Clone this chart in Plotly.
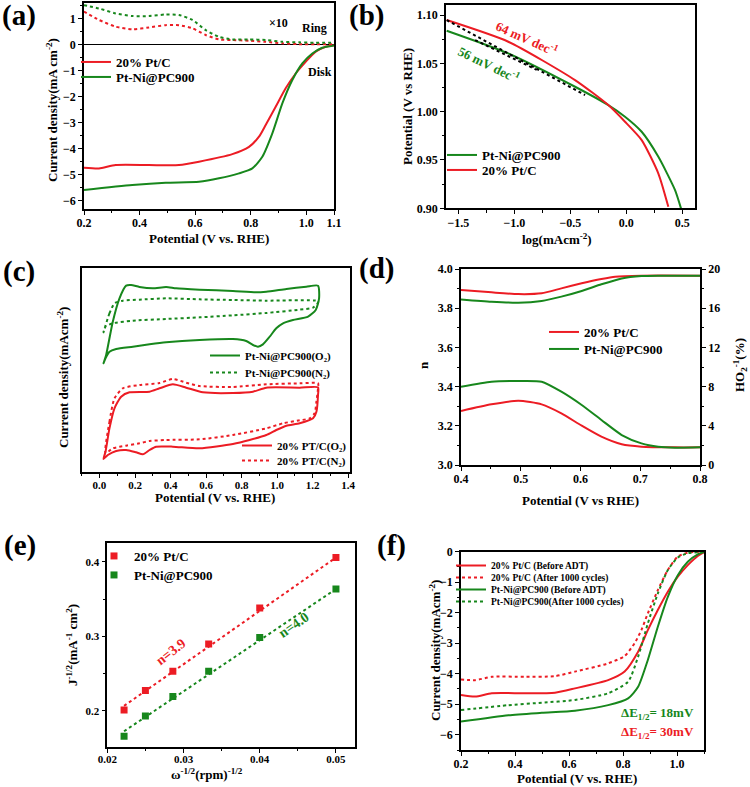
import plotly.graph_objects as go

W, H = 750, 787
RED = "#ec1c24"
GREEN = "#17871c"
FONT = "Liberation Serif"

# ---------------- (a) RRDE: disk & ring currents ----------------
A_X_RED = [0.2, 0.254, 0.314, 0.434, 0.542, 0.614, 0.734, 0.794, 0.83, 0.854, 0.89, 0.926, 0.962, 0.998, 1.034, 1.07, 1.1]
A_RED_DISK = [-4.74, -4.77, -4.64, -4.64, -4.64, -4.51, -4.22, -3.94, -3.55, -3.1, -2.4, -1.69, -1.12, -0.67, -0.28, -0.09, -0.03]
A_X_GREEN = [0.2, 0.374, 0.494, 0.614, 0.686, 0.758, 0.806, 0.842, 0.878, 0.914, 0.95, 0.986, 1.022, 1.058, 1.1]
A_GREEN_DISK = [-5.6, -5.41, -5.32, -5.28, -5.15, -4.96, -4.77, -4.32, -3.42, -2.27, -1.37, -0.73, -0.35, -0.13, -0.04]
A_X_RING = [0.2, 0.254, 0.314, 0.374, 0.434, 0.494, 0.542, 0.590, 0.638, 0.686, 0.734, 0.794, 0.854, 0.914, 0.974, 1.034, 1.1]
A_RED_RING = [1.26, 0.94, 0.68, 0.58, 0.65, 0.74, 0.74, 0.62, 0.36, 0.19, 0.17, 0.14, 0.10, 0.04, 0.01, 0.01, 0.01]
A_GREEN_RING = [1.51, 1.38, 1.19, 1.09, 1.09, 1.15, 1.13, 0.94, 0.55, 0.29, 0.19, 0.19, 0.17, 0.10, 0.08, 0.06, 0.06]
A_XTICKS = [0.2, 0.4, 0.6, 0.8, 1.0, 1.1]
A_YTICKS = [1, 0, -1, -2, -3, -4, -5, -6]

# ---------------- (b) Tafel ----------------
B_X_RED = [-1.604, -1.054, -0.458, -0.161, -0.012, 0.137, 0.286, 0.375]
B_RED = [1.0948, 1.0724, 1.0327, 1.0068, 0.9896, 0.9706, 0.936, 0.9016]
B_X_GREEN = [-1.604, -1.054, -0.458, -0.161, -0.012, 0.137, 0.286, 0.435, 0.488]
B_GREEN = [1.0838, 1.0603, 1.0258, 1.0068, 0.9948, 0.9792, 0.9533, 0.9188, 0.8999]
B_FIT_RED_X = [-1.604, -0.369]
B_FIT_RED_Y = [1.0948, 1.0172]
B_FIT_GREEN_X = [-1.35, -0.80]
B_FIT_GREEN_Y = [1.0741, 1.0433]

# ---------------- (c) CVs (arbitrary current units) ----------------
C_GREEN_O2_X = [0.0225, 0.0375, 0.075, 0.1127, 0.150, 0.178, 0.225, 0.300, 0.375, 0.4316, 0.5634, 0.751, 0.883, 0.939, 1.052, 1.164, 1.230,
                1.236, 1.217, 1.174, 1.089, 1.033, 0.995, 0.958, 0.920, 0.892, 0.864, 0.826, 0.751, 0.5634, 0.375, 0.282, 0.188, 0.094, 0.0563, 0.034, 0.0225]
C_GREEN_O2_Y = [53.28, 57.38, 73.76, 85.24, 91.46, 91.79, 90.81, 90.15, 90.81, 90.15, 89.50, 88.84, 88.19, 88.51, 89.82, 90.97, 91.46,
                85.24, 79.50, 76.22, 74.58, 72.95, 70.49, 66.39, 62.62, 61.47, 62.29, 64.26, 65.24, 64.75, 63.60, 62.62, 61.47, 60.33, 59.01, 55.74, 53.28]
C_GREEN_N2_X = [0.0225, 0.0563, 0.0845, 0.1314, 0.225, 0.375, 0.5634, 0.751, 0.939, 1.230,
                1.230, 1.202, 1.127, 0.939, 0.751, 0.5634, 0.375, 0.188, 0.075, 0.034, 0.0225]
C_GREEN_N2_Y = [68.52, 77.86, 82.78, 84.09, 84.58, 85.24, 84.74, 84.42, 84.09, 83.92,
                83.11, 80.65, 79.66, 78.03, 76.88, 75.89, 75.08, 74.26, 72.95, 71.31, 68.52]
C_RED_O2_X = [0.0225, 0.034, 0.0563, 0.0845, 0.122, 0.169, 0.282, 0.338, 0.413, 0.488, 0.582, 0.751, 0.864, 0.939, 1.127, 1.230,
              1.230, 1.221, 1.202, 1.127, 1.052, 0.995, 0.939, 0.845, 0.751, 0.5634, 0.413, 0.319, 0.282, 0.244, 0.206, 0.150, 0.094, 0.047, 0.0225]
C_RED_O2_Y = [6.24, 9.85, 21.32, 31.16, 36.89, 39.02, 39.35, 41.0, 42.95, 41.32, 39.02, 38.69, 39.35, 41.32, 41.32, 41.48,
              37.71, 29.52, 26.24, 23.78, 22.63, 20.50, 18.04, 15.59, 13.62, 11.49, 12.31, 12.31, 10.67, 8.54, 9.52, 10.67, 10.18, 8.21, 6.24]
C_RED_N2_X = [0.034, 0.0563, 0.0845, 0.1314, 0.225, 0.338, 0.413, 0.488, 0.5634, 0.751, 0.939, 1.127, 1.230,
              1.230, 1.221, 1.211, 1.183, 1.127, 1.033, 0.939, 0.751, 0.5634, 0.375, 0.282, 0.225, 0.150, 0.075, 0.034]
C_RED_N2_Y = [9.03, 24.60, 36.07, 40.99, 42.63, 43.61, 45.58, 43.77, 42.13, 41.64, 42.95, 43.45, 43.45,
              40.99, 34.43, 28.70, 26.24, 25.25, 23.78, 21.32, 18.04, 15.91, 15.59, 15.09, 13.95, 12.80, 11.49, 9.03]

# ---------------- (d) n and HO2- ----------------
D_X_RED_N = [0.4, 0.451, 0.496, 0.535, 0.568, 0.602, 0.635, 0.658, 0.702, 0.8]
D_RED_N = [3.893, 3.881, 3.872, 3.876, 3.901, 3.927, 3.949, 3.961, 3.966, 3.966]
D_X_GREEN_N = [0.4, 0.451, 0.496, 0.535, 0.568, 0.602, 0.635, 0.669, 0.702, 0.730, 0.8]
D_GREEN_N = [3.845, 3.833, 3.828, 3.837, 3.859, 3.888, 3.922, 3.952, 3.964, 3.966, 3.966]
D_X_GREEN_H = [0.4, 0.451, 0.496, 0.535, 0.568, 0.602, 0.635, 0.669, 0.702, 0.730, 0.758, 0.8]
D_GREEN_H = [7.99, 8.50, 8.57, 8.50, 7.48, 6.12, 4.59, 3.06, 2.21, 1.87, 1.77, 1.80]
D_X_RED_H = [0.4, 0.451, 0.496, 0.535, 0.568, 0.602, 0.635, 0.669, 0.702, 0.758, 0.8]
D_RED_H = [5.51, 6.19, 6.56, 6.19, 5.27, 4.01, 2.89, 2.11, 1.87, 1.80, 1.80]

# ---------------- (e) K-L plots ----------------
E_X = [0.0222, 0.025, 0.0286, 0.0333, 0.04, 0.05]
E_RED = [0.2014, 0.2273, 0.2532, 0.29, 0.3382, 0.4059]
E_GREEN = [0.1659, 0.1932, 0.2195, 0.2532, 0.2986, 0.3636]
E_FIT_X = [0.0222, 0.05]
E_FIT_RED = [0.2068, 0.4059]
E_FIT_GREEN = [0.1727, 0.3636]

# ---------------- (f) durability ----------------
F_X_RED = [0.2, 0.253, 0.314, 0.437, 0.548, 0.622, 0.745, 0.806, 0.856, 0.892, 0.929, 0.966, 1.003, 1.04, 1.077, 1.1]
F_RED = [-4.70, -4.75, -4.64, -4.64, -4.62, -4.48, -4.21, -3.93, -3.28, -2.57, -1.91, -1.31, -0.82, -0.44, -0.14, -0.02]
F_X_RED_AFTER = [0.2, 0.253, 0.314, 0.437, 0.548, 0.622, 0.745, 0.806, 0.843, 0.868, 0.892, 0.929, 0.966, 1.003, 1.04, 1.1]
F_RED_AFTER = [-4.19, -4.21, -4.10, -4.10, -4.08, -3.93, -3.66, -3.42, -3.0, -2.57, -2.02, -1.26, -0.60, -0.16, -0.03, 0.0]
F_X_GREEN = [0.2, 0.376, 0.499, 0.622, 0.745, 0.819, 0.856, 0.892, 0.929, 0.966, 1.003, 1.04, 1.077, 1.1]
F_GREEN = [-5.57, -5.36, -5.28, -5.21, -5.03, -4.81, -4.43, -3.55, -2.46, -1.48, -0.77, -0.33, -0.09, -0.01]
F_X_GREEN_AFTER = [0.2, 0.376, 0.499, 0.622, 0.745, 0.819, 0.856, 0.892, 0.929, 0.966, 1.003, 1.04, 1.1]
F_GREEN_AFTER = [-5.19, -5.03, -4.95, -4.86, -4.64, -4.26, -3.44, -2.35, -1.37, -0.60, -0.19, -0.05, 0.0]


def xdom(l, r):
    return [l / W, r / W]


def ydom(t, b):
    return [1 - b / H, 1 - t / H]


def px(x):
    return x / W


def py(y):
    return 1 - y / H


def tickfont(size=12):
    return dict(family=FONT, size=size, color="black", weight="bold")


def axis(domain, rng, anchor, tickvals=None, dtick=None, minor=None, showticklabels=True, ticks="outside", fmt=None, fsize=12, **kw):
    d = dict(domain=domain, range=rng, anchor=anchor, showline=True, linecolor="black", linewidth=1.6,
             mirror=True, ticks=ticks, ticklen=4, tickwidth=1.4, tickcolor="black", showgrid=False,
             zeroline=False, tickfont=tickfont(fsize), showticklabels=showticklabels, automargin=False)
    if tickvals is not None:
        d["tickmode"] = "array"
        d["tickvals"] = tickvals
    elif dtick is not None:
        d["dtick"] = dtick
    if minor is not None:
        d["minor"] = dict(dtick=minor, ticks="outside", ticklen=2.5, tickwidth=1.2, tickcolor="black")
    if fmt:
        d["tickformat"] = fmt
    d.update(kw)
    return d


fig = go.Figure()
legends = {}
_count = [0]


def new_legend(text_x, center_y, size):
    _count[0] += 1
    key = "legend" if _count[0] == 1 else "legend%d" % _count[0]
    legends[key] = dict(x=px(text_x - 41), y=py(center_y - 12), xanchor="left", yanchor="top",
                        bgcolor="rgba(0,0,0,0)", borderwidth=0, itemwidth=30,
                        font=dict(family=FONT, size=size, color="black", weight="bold"))
    return key


def line(x, y, color, name, xa, ya, dash="solid", leg=None, width=2, shape="spline"):
    fig.add_trace(go.Scatter(x=x, y=y, mode="lines", name=name, xaxis=xa, yaxis=ya,
                             line=dict(color=color, width=width, dash=dash, shape=shape, smoothing=0.6),
                             legend=leg if leg else "legend", showlegend=leg is not None))


# (a)
line(A_X_RED, A_RED_DISK, RED, "20% Pt/C", "x", "y", leg=new_legend(117, 59, 13))
line(A_X_GREEN, A_GREEN_DISK, GREEN, "Pt-Ni@PC900", "x", "y", leg=new_legend(117, 74, 13))
line(A_X_RING, A_RED_RING, RED, "ring red", "x", "y", dash="dot")
line(A_X_RING, A_GREEN_RING, GREEN, "ring green", "x", "y", dash="dot")

# (b)
line(B_X_GREEN, B_GREEN, GREEN, "Pt-Ni@PC900", "x2", "y2", leg=new_legend(483, 152, 13))
line(B_X_RED, B_RED, RED, "20% Pt/C", "x2", "y2", leg=new_legend(483, 167, 13))
line(B_FIT_RED_X, B_FIT_RED_Y, "black", "fit", "x2", "y2", dash="dot", shape="linear")
line(B_FIT_GREEN_X, B_FIT_GREEN_Y, "black", "fit2", "x2", "y2", dash="dot", shape="linear")

# (c)
line(C_GREEN_O2_X, C_GREEN_O2_Y, GREEN, "Pt-Ni@PC900(O₂)", "x3", "y3", leg=new_legend(246, 353, 11))
line(C_GREEN_N2_X, C_GREEN_N2_Y, GREEN, "Pt-Ni@PC900(N₂)", "x3", "y3", dash="dot", leg=new_legend(246, 370, 11))
line(C_RED_O2_X, C_RED_O2_Y, RED, "20% PT/C(O₂)", "x3", "y3", leg=new_legend(278, 443, 11))
line(C_RED_N2_X, C_RED_N2_Y, RED, "20% PT/C(N₂)", "x3", "y3", dash="dot", leg=new_legend(278, 458, 11))

# (d)
line(D_X_RED_N, D_RED_N, RED, "20% Pt/C", "x4", "y4", leg=new_legend(585, 329, 13))
line(D_X_GREEN_N, D_GREEN_N, GREEN, "Pt-Ni@PC900", "x4", "y4", leg=new_legend(585, 346, 13))
line(D_X_RED_H, D_RED_H, RED, "HO2 red", "x4", "y7")
line(D_X_GREEN_H, D_GREEN_H, GREEN, "HO2 green", "x4", "y7")

# (e)
fig.add_trace(go.Scatter(x=E_X, y=E_RED, mode="markers", name="20% Pt/C", xaxis="x5", yaxis="y5",
                         marker=dict(symbol="square", size=7, color=RED), legend=new_legend(135, 553, 13)))
fig.add_trace(go.Scatter(x=E_X, y=E_GREEN, mode="markers", name="Pt-Ni@PC900", xaxis="x5", yaxis="y5",
                         marker=dict(symbol="square", size=7, color=GREEN), legend=new_legend(135, 572, 13)))
line(E_FIT_X, E_FIT_RED, RED, "fit red", "x5", "y5", dash="dot", shape="linear")
line(E_FIT_X, E_FIT_GREEN, GREEN, "fit green", "x5", "y5", dash="dot", shape="linear")

# (f)
line(F_X_RED, F_RED, RED, "20% Pt/C (Before ADT)", "x6", "y6", leg=new_legend(492, 563, 9.5))
line(F_X_RED_AFTER, F_RED_AFTER, RED, "20% Pt/C (After 1000 cycles)", "x6", "y6", dash="dot", leg=new_legend(492, 575, 9.5))
line(F_X_GREEN, F_GREEN, GREEN, "Pt-Ni@PC900 (Before ADT)", "x6", "y6", leg=new_legend(492, 587, 9.5))
line(F_X_GREEN_AFTER, F_GREEN_AFTER, GREEN, "Pt-Ni@PC900(After 1000 cycles)", "x6", "y6", dash="dot", leg=new_legend(492, 599, 9.5))

layout = dict(
    width=W, height=H, margin=dict(l=0, r=0, t=0, b=0, autoexpand=False), paper_bgcolor="white", plot_bgcolor="white",
    font=dict(family=FONT, color="black"),
    # (a)
    xaxis=axis(xdom(84, 334), [0.2, 1.1], "y", tickvals=A_XTICKS, minor=0.1, fmt=".1f", ticklabelstandoff=-2),
    yaxis=axis(ydom(3.3, 209), [-6.33, 1.58], "x", tickvals=A_YTICKS, minor=0.5,
               zeroline=True, zerolinecolor="black", zerolinewidth=1.4),
    # (b)
    xaxis2=axis(xdom(446, 695), [-1.61, 0.613], "y2", dtick=0.5, minor=0.25, fmt=".1f", ticklabelstandoff=-2),
    yaxis2=axis(ydom(5, 208.3), [0.9, 1.1104], "x2", dtick=0.05, minor=0.025, fmt=".2f"),
    # (c)
    xaxis3=axis(xdom(81.7, 350), [-0.1, 1.41], "y3", dtick=0.2, minor=0.1, fmt=".1f", tick0=0, fsize=11,
                ticklabelstandoff=-2),
    yaxis3=axis(ydom(268.3, 471.7), [0, 100], "x3", showticklabels=False, ticks=""),
    # (d)
    xaxis4=axis(xdom(461, 700), [0.4, 0.8], "y4", dtick=0.1, minor=0.05, fmt=".1f", ticklabelstandoff=-2),
    yaxis4=axis(ydom(269, 465), [3.0, 4.0], "x4", dtick=0.2, minor=0.1, fmt=".1f"),
    yaxis7=axis(ydom(269, 465), [0, 20], "x4", dtick=4, minor=2, overlaying="y4", side="right"),
    # (e)
    xaxis5=axis(xdom(107.3, 355), [0.02, 0.0525], "y5", dtick=0.01, minor=0.005, fmt=".2f", tick0=0.02, fsize=11,
                ticklabelstandoff=-3),
    yaxis5=axis(ydom(543.3, 746.7), [0.152, 0.425], "x5", dtick=0.1, minor=0.05, fmt=".1f", tick0=0.2, fsize=11),
    # (f)
    xaxis6=axis(xdom(461, 704), [0.2, 1.1], "y6", tickvals=[0.2, 0.4, 0.6, 0.8, 1.0], minor=0.1, fmt=".1f",
                ticklabelstandoff=-2),
    yaxis6=axis(ydom(551.7, 750), [-6.5, 0], "x6", dtick=1, minor=0.5),
)
layout.update(legends)
fig.update_layout(**layout)
fig.update_layout(xaxis=dict(minor=dict(tick0=0.2)), xaxis6=dict(minor=dict(tick0=0.2)))

ann = []


def text(x, y, t, size=13, color="black", angle=0, xanchor="center", yanchor="middle"):
    ann.append(dict(x=px(x), y=py(y), xref="paper", yref="paper", text=t, showarrow=False,
                    textangle=angle, xanchor=xanchor, yanchor=yanchor,
                    font=dict(family=FONT, size=size, color=color, weight="bold")))


# panel labels
for lab, x, y in [("(a)", 19, 16), ("(b)", 366, 16), ("(c)", 19, 271), ("(d)", 376, 269), ("(e)", 20, 545), ("(f)", 391, 545)]:
    text(x, y, lab, size=29)

# axis titles
text(209, 238, "Potential (V vs. RHE)")
text(52, 110, "Current density(mA cm<sup>-2</sup>)", angle=-90)
text(557, 239, "log(mAcm<sup>-2</sup>)")
text(407, 107, "Potential (V vs RHE)", angle=-90)
text(215, 497, "Potential (V vs. RHE)")
text(63, 378, "Current density(mAcm<sup>-2</sup>)", angle=-90)
text(580, 500, "Potential (V vs RHE)")
text(423, 365, "n", angle=-90)
text(740, 365, "HO<sub>2</sub><sup>-1</sup>(%)", angle=-90)
text(207, 774, "ω<sup>-1/2</sup>(rpm)<sup>-1/2</sup>")
text(72, 645, "J<sup>-1/2</sup>(mA<sup>-1</sup> cm<sup>2</sup>)", angle=-90)
text(577, 778, "Potential (V vs. RHE)")
text(435, 650, "Current density(mAcm<sup>-2</sup>)", angle=-90)

# in-plot labels
text(278, 23, "×10", size=12)
text(314, 28, "Ring", size=12)
text(320, 72, "Disk", size=12)
text(527, 38, "64 mV dec<sup>-1</sup>", size=13, color=RED, angle=24)
text(489, 64, "56 mV dec<sup>-1</sup>", size=13, color=GREEN, angle=26)
text(170, 652, "n=3.9", size=14, color=RED, angle=-38)
text(293, 625, "n=4.0", size=14, color=GREEN, angle=-35)
text(657, 713, "ΔE<sub>1/2</sub>= 18mV", size=13, color=GREEN)
text(657, 732, "ΔE<sub>1/2</sub>= 30mV", size=13, color=RED)

fig.update_layout(annotations=ann)
fig.write_html("out.html", config={"displayModeBar": False},
               post_script="document.body.style.margin='0px';document.body.style.padding='0px';")
